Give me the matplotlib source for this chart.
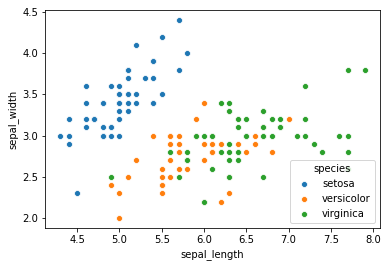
import matplotlib
matplotlib.use("Agg")
import matplotlib.pyplot as plt
import numpy as np

setosa_length = [5.1,4.9,4.7,4.6,5.0,5.4,4.6,5.0,4.4,4.9,5.4,4.8,4.8,4.3,5.8,5.7,5.4,5.1,5.7,5.1,
                 5.4,5.1,4.6,5.1,4.8,5.0,5.0,5.2,5.2,4.7,4.8,5.4,5.2,5.5,4.9,5.0,5.5,4.9,4.4,5.1,
                 5.0,4.5,4.4,5.0,5.1,4.8,5.1,4.6,5.3,5.0]
setosa_width = [3.5,3.0,3.2,3.1,3.6,3.9,3.4,3.4,2.9,3.1,3.7,3.4,3.0,3.0,4.0,4.4,3.9,3.5,3.8,3.8,
                3.4,3.7,3.6,3.3,3.4,3.0,3.4,3.5,3.4,3.2,3.1,3.4,4.1,4.2,3.1,3.2,3.5,3.6,3.0,3.4,
                3.5,2.3,3.2,3.5,3.8,3.0,3.8,3.2,3.7,3.3]
versicolor_length = [7.0,6.4,6.9,5.5,6.5,5.7,6.3,4.9,6.6,5.2,5.0,5.9,6.0,6.1,5.6,6.7,5.6,5.8,6.2,5.6,
                     5.9,6.1,6.3,6.1,6.4,6.6,6.8,6.7,6.0,5.7,5.5,5.5,5.8,6.0,5.4,6.0,6.7,6.3,5.6,5.5,
                     5.5,6.1,5.8,5.0,5.6,5.7,5.7,6.2,5.1,5.7]
versicolor_width = [3.2,3.2,3.1,2.3,2.8,2.8,3.3,2.4,2.9,2.7,2.0,3.0,2.2,2.9,2.9,3.1,3.0,2.7,2.2,2.5,
                    3.2,2.8,2.5,2.8,2.9,3.0,2.8,3.0,2.9,2.6,2.4,2.4,2.7,2.7,3.0,3.4,3.1,2.3,3.0,2.5,
                    2.6,3.0,2.6,2.3,2.7,3.0,2.9,2.9,2.5,2.8]
virginica_length = [6.3,5.8,7.1,6.3,6.5,7.6,4.9,7.3,6.7,7.2,6.5,6.4,6.8,5.7,5.8,6.4,6.5,7.7,7.7,6.0,
                    6.9,5.6,7.7,6.3,6.7,7.2,6.2,6.1,6.4,7.2,7.4,7.9,6.4,6.3,6.1,7.7,6.3,6.4,6.0,6.9,
                    6.7,6.9,5.8,6.8,6.7,6.7,6.3,6.5,6.2,5.9]
virginica_width = [3.3,2.7,3.0,2.9,3.0,3.0,2.5,2.9,2.5,3.6,3.2,2.7,3.0,2.5,2.8,3.2,3.0,3.8,2.6,2.2,
                   3.2,2.8,2.8,2.7,3.3,3.2,2.8,3.0,2.8,3.0,2.8,3.8,2.8,2.8,2.6,3.0,3.4,3.1,3.0,3.1,
                   3.1,3.1,2.7,3.2,3.3,3.0,2.5,3.0,3.4,3.0]

species = ["setosa", "versicolor", "virginica"]
xs = [setosa_length, versicolor_length, virginica_length]
ys = [setosa_width, versicolor_width, virginica_width]
colors = ["#1f77b4", "#ff7f0e", "#2ca02c"]

fig = plt.figure(figsize=(388/72, 266/72), dpi=72)
ax = fig.add_axes([0.116, 0.143, 0.863, 0.819])
for name, x, y, c in zip(species, xs, ys, colors):
    ax.scatter(x, y, s=36, color=c, edgecolor="white", linewidth=0.75, label=name)
ax.set_xlabel("sepal_length")
ax.set_ylabel("sepal_width")
ax.legend(title="species", loc="lower right")
fig.savefig("out.png", dpi=72)
